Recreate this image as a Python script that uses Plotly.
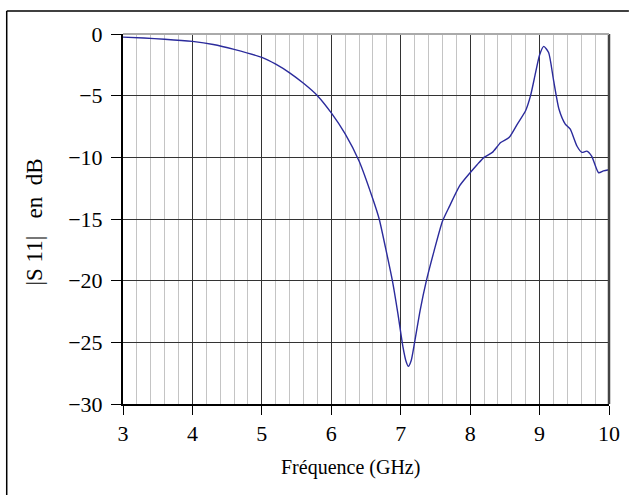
import plotly.graph_objects as go

freq_ghz = [3.0, 3.3, 3.6, 4.0, 4.3, 4.6, 5.0, 5.2, 5.4, 5.6, 5.8, 6.0, 6.2, 6.4,
            6.6, 6.69, 6.78, 6.88, 6.96, 7.03, 7.08, 7.11, 7.15, 7.2, 7.28,
            7.37, 7.48, 7.6, 7.7, 7.85, 8.0, 8.1, 8.2, 8.32, 8.44, 8.56, 8.68,
            8.8, 8.87, 8.94, 9.0, 9.06, 9.13, 9.2, 9.28, 9.37, 9.44, 9.54,
            9.61, 9.68, 9.75, 9.85, 9.92, 10.0]
s11_db = [-0.25, -0.33, -0.42, -0.6, -0.85, -1.25, -1.9, -2.45, -3.15, -4.0,
          -5.0, -6.4, -8.1, -10.3, -13.4, -15.0, -17.3, -20.0, -22.7, -25.3,
          -26.6, -26.95, -26.5, -25.0, -22.4, -20.0, -17.6, -15.2, -14.0,
          -12.3, -11.25, -10.6, -10.0, -9.6, -8.8, -8.4, -7.3, -6.2, -5.0,
          -3.2, -1.7, -1.0, -1.5, -3.7, -6.1, -7.3, -7.7, -9.1, -9.6, -9.5,
          -9.9, -11.25, -11.1, -11.0]

x_ticks = [3, 4, 5, 6, 7, 8, 9, 10]
y_ticks = [0, -5, -10, -15, -20, -25, -30]

FONT = "Liberation Serif"

fig = go.Figure()
fig.add_trace(go.Scatter(
    x=freq_ghz, y=s11_db, mode="lines",
    line=dict(color="#2b2b9c", width=1.4, shape="spline", smoothing=0.6),
    hoverinfo="skip", showlegend=False,
))

L, R, T, B = 123, 20, 34, 91
W, H = 632, 495
pw, ph = W - L - R, H - T - B

fig.update_layout(
    width=W, height=H,
    margin=dict(l=L, r=R, t=T, b=B),
    paper_bgcolor="white", plot_bgcolor="white",
    font=dict(family=FONT, color="black", size=22),
    xaxis=dict(
        range=[3, 10], tickvals=x_ticks, ticktext=[str(v) for v in x_ticks],
        showgrid=True, gridcolor="#333333", gridwidth=1,
        minor=dict(dtick=0.2, tick0=3, showgrid=True, gridcolor="#c4c4c4", gridwidth=1, ticks=""),
        ticks="outside", ticklen=9, tickcolor="black", tickwidth=1,
        showline=True, linecolor="black", linewidth=1.5, mirror=False,
        zeroline=False, tickfont=dict(family=FONT, size=22),
    ),
    yaxis=dict(
        range=[-30, 0], tickvals=y_ticks,
        showgrid=True, gridcolor="#333333", gridwidth=1,
        ticks="outside", ticklen=10, tickcolor="black", tickwidth=1,
        showline=True, linecolor="black", linewidth=2, mirror=False,
        zeroline=False, tickfont=dict(family=FONT, size=22),
        ticklabelstandoff=4,
    ),
)

# right and top border of plot area
fig.add_shape(type="line", xref="paper", yref="paper", x0=1, x1=1, y0=0, y1=1,
              line=dict(color="#444444", width=2.5))
fig.add_shape(type="line", xref="paper", yref="paper", x0=0, x1=1, y0=1, y1=1,
              line=dict(color="#aaaaaa", width=2))


def px_x(p):
    return (p - L) / pw


def px_y(p):
    return (H - B - p) / ph


# outer frame: only top and left edges are visible in the picture
fig.add_shape(type="line", xref="paper", yref="paper",
              x0=px_x(6), x1=px_x(632), y0=px_y(11), y1=px_y(11),
              line=dict(color="black", width=1.5))
fig.add_shape(type="line", xref="paper", yref="paper",
              x0=px_x(6), x1=px_x(6), y0=px_y(11), y1=px_y(495),
              line=dict(color="black", width=1.5))

fig.add_annotation(text="Fréquence (GHz)", xref="paper", yref="paper",
                   x=px_x(352), y=px_y(467), showarrow=False,
                   font=dict(family=FONT, size=20), xanchor="center", yanchor="middle")
fig.add_annotation(text="|S\u00a011|\u00a0\u00a0 en\u00a0 dB", xref="paper", yref="paper",
                   x=px_x(34), y=px_y(222), showarrow=False, textangle=-90,
                   font=dict(family=FONT, size=23), xanchor="center", yanchor="middle")

fig.write_html("out.html", config={"displayModeBar": False},
               post_script="document.body.style.margin='0px';")
